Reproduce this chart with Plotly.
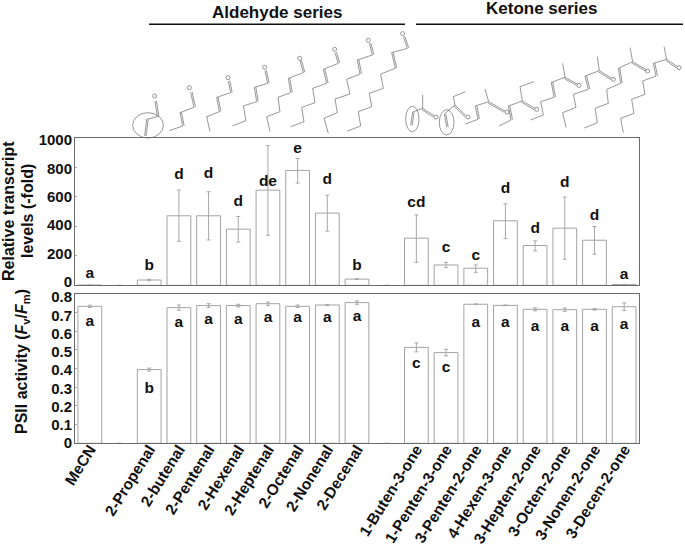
import plotly.graph_objects as go

W, H = 685, 548
FONT = "Liberation Sans"

# ---------- data ----------
categories = ["MeCN", "", "2-Propenal", "2-butenal", "2-Pentenal", "2-Hexenal", "2-Heptenal",
              "2-Octenal", "2-Nonenal", "2-Decenal", "", "1-Buten-3-one", "1-Penten-3-one",
              "3-Penten-2-one", "4-Hexen-3-one", "3-Hepten-2-one", "3-Octen-2-one",
              "3-Nonen-2-one", "3-Decen-2-one"]
positions = list(range(len(categories)))

transcript_ticks = [0, 200, 400, 600, 800, 1000]
psii_ticks = [0, 0.1, 0.2, 0.3, 0.4, 0.5, 0.6, 0.7, 0.8]
psii_tick_labels = ["0", "0.1", "0.2", "0.3", "0.4", "0.5", "0.6", "0.7", "0.8"]

transcript = [1, 0, 36, 472, 472, 381, 646, 780, 490, 42, 0, 320, 138, 116, 438, 270, 388, 306, 5]
transcript_err_up = [1, 0, 5, 174, 163, 86, 302, 82, 122, 2, 0, 158, 18, 22, 115, 32, 211, 93, 2]
transcript_err_dn = [1, 0, 5, 173, 164, 88, 306, 86, 123, 2, 0, 164, 18, 28, 121, 36, 211, 95, 2]
transcript_letters = ["a", "", "b", "d", "d", "d", "de", "e", "d", "b", "", "cd", "c", "c", "d", "d", "d", "d", "a"]
transcript_letter_y = [73, None, 127, 748, 755, 565, 698, 927, 712, 131, None, 558, 249, 195, 653, 383, 694, 472, 70]

psii = [0.734, 0, 0.395, 0.727, 0.738, 0.738, 0.748, 0.734, 0.741, 0.754, 0,
        0.514, 0.486, 0.745, 0.739, 0.718, 0.716, 0.718, 0.732]
psii_err = [0.006, 0, 0.008, 0.014, 0.010, 0.007, 0.009, 0.007, 0.003, 0.009, 0,
            0.024, 0.018, 0.002, 0.002, 0.008, 0.009, 0.004, 0.020]
psii_letters = ["a", "", "b", "a", "a", "a", "a", "a", "a", "a", "", "c", "c", "a", "a", "a", "a", "a", "a"]
psii_letter_y = [0.648, None, 0.289, 0.643, 0.659, 0.659, 0.670, 0.670, 0.670, 0.677, None,
                 0.423, 0.405, 0.643, 0.643, 0.621, 0.621, 0.621, 0.634]

# ---------- decorative molecule sketches, in page pixels ----------
def A(points):   # aldehyde zoom crop -> page pixels
    return [(120 + x / 3, y / 3) for x, y in points]
def K(points):   # ketone zoom crop -> page pixels
    return [(390 + x / 3, y / 3) for x, y in points]

# (chain, index of the C=C segment, oxygen end-of-chain)
aldehydes = [
    (A([(74, 408), (80, 358), (112, 350), (105, 303)]), 0, A([(104, 288)])[0]),
    (A([(148, 392), (188, 378), (180, 338), (222, 322), (212, 277)]), 1, A([(208, 263)])[0]),
    (A([(270, 395), (260, 350), (298, 335), (290, 292), (332, 278), (325, 243)]), 2, A([(324, 233)])[0]),
    (A([(337, 378), (378, 362), (370, 318), (410, 305), (403, 262), (443, 250), (435, 212)]), 3, A([(434, 202)])[0]),
    (A([(450, 395), (440, 350), (480, 335), (474, 292), (512, 278), (505, 235), (550, 218), (540, 182)]), 4, A([(539, 175)])[0]),
    (A([(512, 380), (552, 365), (545, 322), (585, 308), (578, 265), (620, 250), (610, 208), (655, 190), (645, 158)]), 5, A([(644, 148)])[0]),
    (A([(625, 400), (612, 355), (652, 338), (645, 297), (690, 282), (680, 238), (720, 222), (712, 180), (757, 165), (748, 130)]), 6, A([(745, 121)])[0]),
    (A([(682, 393), (722, 378), (715, 335), (755, 320), (748, 280), (790, 265), (782, 222), (826, 205), (815, 158), (862, 145), (850, 110)]), 7, A([(848, 101)])[0]),
]
# (chain up to carbonyl C, index of C=C, side chain, carbonyl O-end, oxygen)
ketones = [
    (K([(62, 376), (68, 336), (98, 325)]), 0, K([(98, 325), (98, 285)]), K([(132, 347)])[0], K([(138, 351)])[0]),
    (K([(170, 382), (163, 342), (195, 315)]), 0, K([(195, 315), (190, 290), (226, 275)]), K([(228, 347)])[0], K([(234, 351)])[0]),
    (K([(226, 372), (264, 358), (256, 318), (296, 305)]), 1, K([(296, 305), (285, 267)]), K([(345, 333)])[0], K([(351, 336)])[0]),
    (K([(327, 378), (363, 360), (355, 318), (397, 303)]), 1, K([(397, 303), (390, 260), (432, 245)]), K([(435, 325)])[0], K([(440, 328)])[0]),
    (K([(422, 360), (460, 345), (452, 305), (492, 292), (484, 247), (525, 232)]), 3, K([(525, 232), (518, 190)]), K([(562, 252)])[0], K([(567, 256)])[0]),
    (K([(528, 382), (518, 338), (558, 322), (550, 283), (595, 268), (585, 228), (628, 212)]), 4, K([(628, 212), (622, 170)]), K([(665, 235)])[0], K([(670, 238)])[0]),
    (K([(583, 384), (622, 368), (615, 325), (655, 310), (650, 268), (692, 250), (685, 205), (728, 185)]), 5, K([(728, 185), (720, 143)]), K([(770, 210)])[0], K([(773, 213)])[0]),
    (K([(700, 398), (692, 355), (732, 340), (725, 298), (765, 283), (758, 243), (798, 228), (790, 190), (830, 178)]), 6, K([(830, 178), (822, 140)]), K([(862, 200)])[0], K([(867, 203)])[0]),
]
ellipses = [
    (A([(84, 376)])[0], 46 / 3, 38 / 3),
    (K([(67, 357)])[0], 20 / 3, 38 / 3),
    (K([(170, 367)])[0], 22 / 3, 38 / 3),
]

# ---------- panel geometry ----------
X0, X1 = 75, 639
T_TOP, T_BOT = 138, 285.3
B_TOP, B_BOT = 294, 443.3
# the tick numbers sit slightly inside the frame ends, so they get their own scale
T_LABEL_TOP, T_LABEL_BOT = 140, 282
B_LABEL_TOP, B_LABEL_BOT = 297, 443

def px(x): return x / W
def py(y): return 1 - y / H

MOL = dict(color="#6a6a6a", width=0.7)
shapes = []

def seg(a, b, line=MOL):
    shapes.append(dict(type="line", xref="paper", yref="paper", x0=px(a[0]), y0=py(a[1]),
                       x1=px(b[0]), y1=py(b[1]), line=line))

def dbl(a, b, off=1.5):
    dx, dy = b[0] - a[0], b[1] - a[1]
    n = (dx * dx + dy * dy) ** 0.5
    ox, oy = -dy / n * off, dx / n * off
    seg(a, b)
    seg((a[0] + ox, a[1] + oy), (b[0] + ox, b[1] + oy))

def circ(c, rx, ry, line=MOL):
    shapes.append(dict(type="circle", xref="paper", yref="paper", x0=px(c[0] - rx), x1=px(c[0] + rx),
                       y0=py(c[1] - ry), y1=py(c[1] + ry), line=line))

for chain, cc, oxy in aldehydes:
    for i in range(len(chain) - 1):
        if i == cc or i == len(chain) - 2:
            dbl(chain[i], chain[i + 1])
        else:
            seg(chain[i], chain[i + 1])
    circ(oxy, 2, 2)

for chain, cc, side, oend, oxy in ketones:
    for i in range(len(chain) - 1):
        if i == cc:
            dbl(chain[i], chain[i + 1])
        else:
            seg(chain[i], chain[i + 1])
    for i in range(len(side) - 1):
        seg(side[i], side[i + 1])
    dbl(chain[-1], oend)
    circ(oxy, 2, 2)

for c, rx, ry in ellipses:
    circ(c, rx, ry)

HEAD = dict(color="#111111", width=1.4)
seg((149, 24.3), (405, 24.3), HEAD)
seg((416, 24.3), (683, 24.3), HEAD)

# ---------- figure ----------
ERR = dict(type="data", color="#a8a8a8", thickness=1, width=2)
LETTER = dict(family=FONT, size=15.5, color="#111111", weight="bold")
bar_widths = [1 if c else 0 for c in categories]
BAR_MARK = dict(color="white", line=dict(color="#a3a3a3", width=bar_widths))

def labelled(xs, ys, texts):
    kept = [(x, y, t) for x, y, t in zip(xs, ys, texts) if t]
    return [k[0] for k in kept], [k[1] for k in kept], [k[2] for k in kept]

fig = go.Figure()
# invisible carriers for the two number scales, drawn first
fig.add_scatter(x=[0, 0], y=[transcript_ticks[0], transcript_ticks[-1]], mode="lines", opacity=0,
                hoverinfo="skip", xaxis="x", yaxis="y3", showlegend=False)
fig.add_scatter(x=[0, 0], y=[psii_ticks[0], psii_ticks[-1]], mode="lines", opacity=0,
                hoverinfo="skip", xaxis="x2", yaxis="y4", showlegend=False)
fig.add_bar(x=positions, y=transcript, width=0.8, marker=BAR_MARK,
            error_y=dict(symmetric=False, array=transcript_err_up, arrayminus=transcript_err_dn, **ERR),
            xaxis="x", yaxis="y", showlegend=False)
lx, ly, lt = labelled(positions, transcript_letter_y, transcript_letters)
fig.add_scatter(x=lx, y=ly, text=lt, mode="text", textfont=LETTER, xaxis="x", yaxis="y", showlegend=False)
fig.add_bar(x=positions, y=psii, width=0.8, marker=BAR_MARK,
            error_y=dict(array=psii_err, **ERR),
            xaxis="x2", yaxis="y2", showlegend=False)
lx, ly, lt = labelled(positions, psii_letter_y, psii_letters)
fig.add_scatter(x=lx, y=ly, text=lt, mode="text", textfont=LETTER, xaxis="x2", yaxis="y2", showlegend=False)

AXFRAME = dict(showline=True, mirror=True, linecolor="#6a6a6a", linewidth=1, showgrid=False, zeroline=False, automargin=False)
TICK = dict(family=FONT, size=15, color="#111111", weight="bold")
XDOM = [px(X0), px(X1)]
named_pos = [p for p, c in zip(positions, categories) if c]
named_cat = [c for c in categories if c]

def label_axis(top, bottom, rng, vals, texts):
    return dict(domain=[py(bottom), py(top)], range=rng, tickvals=vals, ticktext=texts,
                anchor="free", position=px(X0), side="left", showline=False, showgrid=False, zeroline=False,
                ticks="", ticklabelstandoff=3, tickfont=TICK, automargin=False)

def title(text, x, y, size):
    return dict(text=text, xref="paper", yref="paper", x=px(x), y=py(y), xanchor="center", yanchor="middle",
                textangle=-90, showarrow=False, font=dict(family=FONT, size=size, color="#111111", weight="bold"))

def head(text, x, y):
    d = title(text, x, y, 17)
    d["textangle"] = 0
    return d

fig.update_layout(
    width=W, height=H, margin=dict(l=0, r=0, t=0, b=0, pad=0), paper_bgcolor="white", plot_bgcolor="rgba(0,0,0,0)",
    showlegend=False, shapes=shapes,
    xaxis=dict(domain=XDOM, range=[-0.5, 18.5], showticklabels=False, ticks="", anchor="y", **AXFRAME),
    yaxis=dict(domain=[py(T_BOT), py(T_TOP)], range=[0, 1000], tickvals=transcript_ticks, showticklabels=False,
               ticks="inside", ticklen=2, tickcolor="#aaaaaa", anchor="x", **AXFRAME),
    xaxis2=dict(domain=XDOM, range=[-0.5, 18.5], tickvals=named_pos, ticktext=named_cat, tickangle=-58,
                ticks="", ticklabelstandoff=-10,
                tickfont=dict(family=FONT, size=15.5, color="#111111", weight="bold"), anchor="y2", **AXFRAME),
    yaxis2=dict(domain=[py(B_BOT), py(B_TOP)], range=[0, 0.8], tickvals=psii_ticks, showticklabels=False,
                ticks="inside", ticklen=2, tickcolor="#aaaaaa", anchor="x2", **AXFRAME),
    yaxis3=label_axis(T_LABEL_TOP, T_LABEL_BOT, [0, 1000], transcript_ticks, [str(t) for t in transcript_ticks]),
    yaxis4=label_axis(B_LABEL_TOP, B_LABEL_BOT, [0, 0.8], psii_ticks, psii_tick_labels),
    annotations=[
        title("Relative transcript", 8, 211, 16),
        title("levels (-fold)", 27, 211, 16),
        title("PSII activity (<i>F</i><sub>v</sub>/<i>F</i><sub>m</sub>)", 22, 362, 16),
        head("Aldehyde series", 277, 13),
        head("Ketone series", 542, 9),
    ],
)

fig.write_html("out.html", config=dict(displayModeBar=False), post_script="document.body.style.margin='0';")
